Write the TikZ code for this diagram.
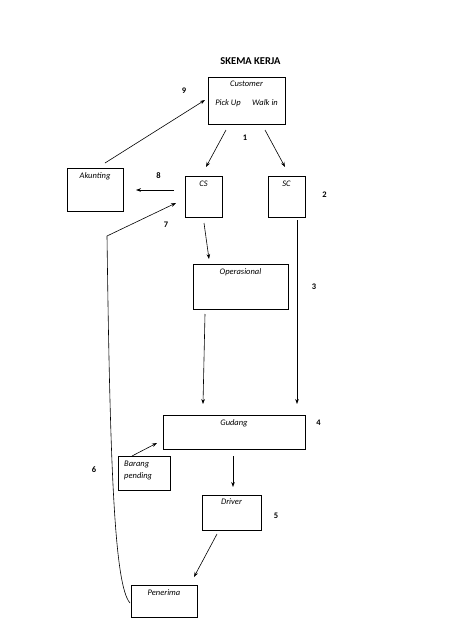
\documentclass[tikz,border=0pt]{standalone}
\usepackage{fontspec}
\setmainfont{Carlito}
\usetikzlibrary{arrows.meta}
\begin{document}
\begin{tikzpicture}[x=1pt,y=-1pt,
  box/.style={draw, line width=0.6pt, inner sep=0pt},
  txt/.style={font=\fontsize{8.5}{10}\selectfont\itshape, inner sep=0pt},
  num/.style={font=\fontsize{8.5}{10}\selectfont\bfseries, inner sep=0pt},
  arr/.style={line width=0.6pt, -{Stealth[length=5pt,width=3.6pt]}}]
\useasboundingbox[fill=white] (0,0) rectangle (474,632);
\node[font=\fontsize{10.5}{12}\selectfont\bfseries] (title) at (250.5,61) {SKEMA KERJA};
% boxes
\node[box, minimum width=77, minimum height=47] (cust) at (246.5,100.5) {};
\node[box, minimum width=37, minimum height=41] (cs) at (203.5,196.5) {};
\node[box, minimum width=37, minimum height=41] (sc) at (286.5,196.5) {};
\node[box, minimum width=56, minimum height=43] (akun) at (95,189.5) {};
\node[box, minimum width=95, minimum height=45] (ops) at (240.5,286.5) {};
\node[box, minimum width=142, minimum height=34] (gud) at (234,432) {};
\node[box, minimum width=52, minimum height=34] (bar) at (144,473) {};
\node[box, minimum width=59, minimum height=35] (drv) at (231.5,512.5) {};
\node[box, minimum width=66, minimum height=32] (pen) at (164,601) {};
% texts
\node[txt] (tcust) at (246.5,84) {Customer};
\node[txt] (tpick) at (228,103) {Pick Up};
\node[txt] (twalk) at (265,103) {Walk in};
\node[txt] (tcs) at (203.5,183.5) {CS};
\node[txt] (tsc) at (286.5,183.5) {SC};
\node[txt] (takun) at (95,176) {Akunting};
\node[txt] (tops) at (240.5,272) {Operasional};
\node[txt] (tgud) at (234,423) {Gudang};
\node[txt, anchor=west] (tbar1) at (124,464) {Barang};
\node[txt, anchor=west] (tbar2) at (124,476) {pending};
\node[txt] (tdrv) at (231.5,502) {Driver};
\node[txt] (tpen) at (164,593) {Penerima};
% numbers
\node[num] (n9) at (184,91) {9};
\node[num] (n1) at (245,137.5) {1};
\node[num] (n8) at (158.5,176) {8};
\node[num] (n2) at (324.5,195) {2};
\node[num] (n7) at (166,225) {7};
\node[num] (n3) at (314,286.5) {3};
\node[num] (n4) at (318.5,423) {4};
\node[num] (n6) at (94,469.5) {6};
\node[num] (n5) at (276,516) {5};
% connector end points
\coordinate (a9s) at (105,163);  \coordinate (a9e) at (205,100);
\coordinate (a1ls) at (226,130); \coordinate (a1le) at (206,167);
\coordinate (a1rs) at (265,130); \coordinate (a1re) at (285,167);
\coordinate (a8s) at (174,190);  \coordinate (a8e) at (136,190);
\coordinate (acos) at (204,223); \coordinate (acoe) at (209,259);
\coordinate (ascs) at (297,220); \coordinate (asce) at (297,404);
\coordinate (aogs) at (205,314); \coordinate (aoge) at (203,404);
\coordinate (agds) at (233,456); \coordinate (agde) at (233,487);
\coordinate (adps) at (217,534); \coordinate (adpe) at (194,577);
\coordinate (abgs) at (132,456); \coordinate (abge) at (157,443);
\coordinate (a7s) at (130,603);  \coordinate (a7m) at (107,236); \coordinate (a7e) at (176,203);
% connectors
\draw[arr] (a9s) -- (a9e);
\draw[arr] (a1ls) -- (a1le);
\draw[arr] (a1rs) -- (a1re);
\draw[arr] (a8s) -- (a8e);
\draw[arr] (acos) -- (acoe);
\draw[arr] (ascs) -- (asce);
\draw[arr] (aogs) -- (aoge);
\draw[arr] (agds) -- (agde);
\draw[arr] (adps) -- (adpe);
\draw[arr] (abgs) -- (abge);
\draw[arr] (a7s) .. controls (114,585) and (110,460) .. (a7m) -- (a7e);
\end{tikzpicture}
\end{document}
